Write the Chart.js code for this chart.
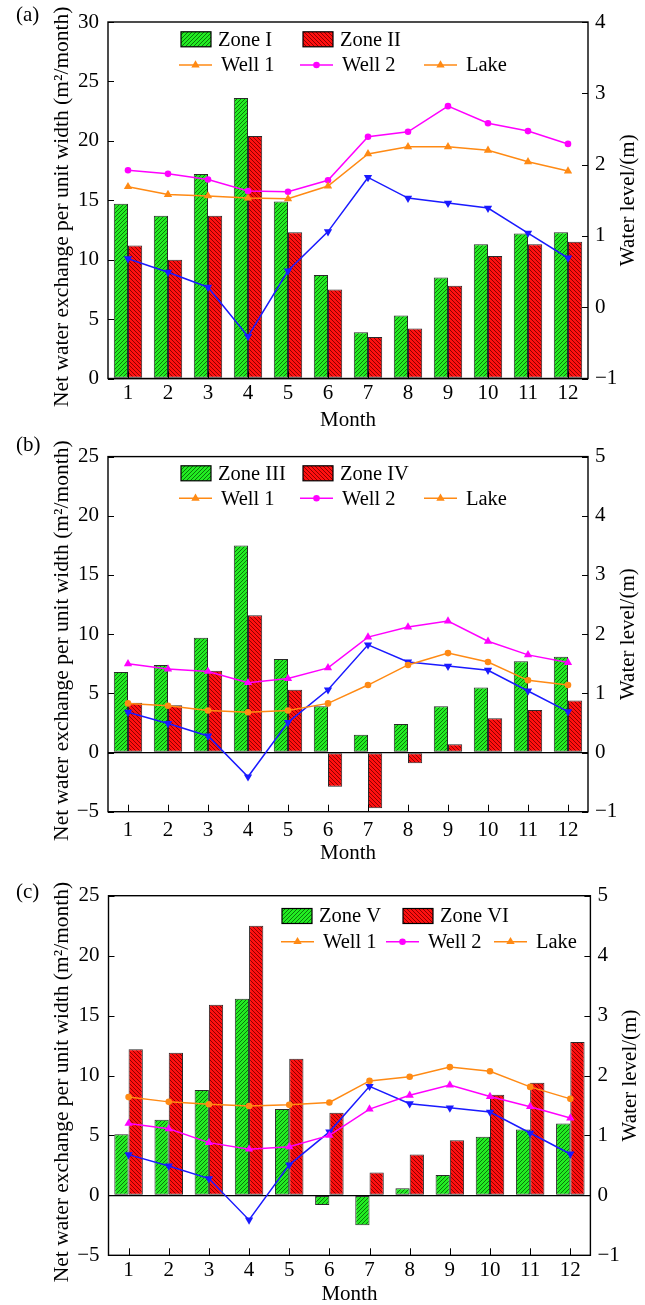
<!DOCTYPE html>
<html>
<head>
<meta charset="utf-8">
<script src="https://cdn.jsdelivr.net/npm/chart.js"></script>
<style>
  body { margin: 0; background: #fff; }
  .pane { position: absolute; left: 0; }
</style>
</head>
<body>
<canvas id="panelA" class="pane" style="top:0" width="645" height="435"></canvas>
<canvas id="panelB" class="pane" style="top:435px" width="645" height="435"></canvas>
<canvas id="panelC" class="pane" style="top:870px" width="645" height="435"></canvas>
<script>
// --- data ---
const months = ['1', '2', '3', '4', '5', '6', '7', '8', '9', '10', '11', '12'];

const zoneI   = [14.7, 13.7, 17.2, 23.6, 14.9, 8.7, 3.9, 5.3, 8.5, 11.3, 12.2, 12.3];
const zoneII  = [11.2, 10.0, 13.7, 20.4, 12.3, 7.5, 3.5, 4.2, 7.8, 10.3, 11.3, 11.5];
const zoneIII = [6.8, 7.4, 9.7, 17.5, 7.9, 3.9, 1.5, 2.4, 3.9, 5.5, 7.7, 8.1];
const zoneIV  = [4.2, 4.0, 6.9, 11.6, 5.3, -2.9, -4.7, -0.9, 0.7, 2.9, 3.6, 4.4];
const zoneV   = [5.1, 6.3, 8.8, 16.4, 7.2, -0.8, -2.5, 0.6, 1.7, 4.9, 5.5, 6.0];
const zoneVI  = [12.2, 11.9, 15.9, 22.5, 11.4, 6.9, 1.9, 3.4, 4.6, 8.4, 9.4, 12.8];

const well1A = [1.69, 1.58, 1.56, 1.53, 1.52, 1.70, 2.15, 2.25, 2.25, 2.20, 2.04, 1.91];
const well2A = [1.92, 1.87, 1.79, 1.63, 1.62, 1.78, 2.39, 2.46, 2.82, 2.58, 2.47, 2.29];
const well1B = [0.83, 0.79, 0.71, 0.68, 0.71, 0.83, 1.14, 1.48, 1.68, 1.53, 1.22, 1.14];
const well2B = [1.50, 1.41, 1.37, 1.18, 1.25, 1.43, 1.95, 2.12, 2.22, 1.88, 1.65, 1.52];
const well1C = [1.64, 1.56, 1.52, 1.49, 1.51, 1.55, 1.91, 1.98, 2.14, 2.07, 1.81, 1.61];
const well2C = [1.20, 1.11, 0.88, 0.77, 0.81, 1.00, 1.44, 1.67, 1.84, 1.65, 1.48, 1.29];
const lakeLevel = [0.68, 0.49, 0.28, -0.41, 0.51, 1.06, 1.82, 1.53, 1.46, 1.39, 1.04, 0.69];

const ORANGE = '#ff8a14';
const MAGENTA = '#ff00ff';
const BLUE = '#1a1aff';
const FONT = '"Liberation Serif", "Times New Roman", serif';

// crisp 1px diagonal hatching on a coloured ground
function hatch(ctx, rgb, ink, dir) {
    const s = 4;
    const c = document.createElement('canvas');
    c.width = c.height = s;
    const g = c.getContext('2d');
    const img = g.createImageData(s, s);
    for (let y = 0; y < s; y++) {
        for (let x = 0; x < s; x++) {
            const dark = dir > 0 ? (x + y) % s === s - 1 : (x - y + s) % s === 0;
            const col = dark ? ink : rgb;
            const i = (y * s + x) * 4;
            img.data[i] = col[0]; img.data[i + 1] = col[1]; img.data[i + 2] = col[2]; img.data[i + 3] = 255;
        }
    }
    g.putImageData(img, 0, 0);
    return ctx.createPattern(c, 'repeat');
}

function marker(ctx, style, x, y, color) {
    ctx.fillStyle = color;
    ctx.beginPath();
    if (style === 'circle') {
        ctx.arc(x, y, 3.3, 0, Math.PI * 2);
    } else {
        const r = 4.8;
        ctx.moveTo(x, y - r);
        ctx.lineTo(x - r * 0.87, y + r * 0.5);
        ctx.lineTo(x + r * 0.87, y + r * 0.5);
        ctx.closePath();
    }
    ctx.fill();
}

// frame, inward ticks, axis titles, panel letter and the key
const decor = {
    id: 'decor',
    afterDatasetsDraw(chart, args, o) {
        const { ctx, chartArea: a, scales } = chart;
        ctx.save();
        ctx.strokeStyle = '#000';
        ctx.lineWidth = 1;
        ctx.beginPath();
        scales.x.ticks.forEach((t, i) => {
            const px = Math.round(scales.x.getPixelForTick(i)) + 0.5;
            ctx.moveTo(px, a.bottom); ctx.lineTo(px, a.bottom - 7);
        });
        scales.y.ticks.forEach((t, i) => {
            const py = Math.round(scales.y.getPixelForTick(i)) + 0.5;
            ctx.moveTo(a.left, py); ctx.lineTo(a.left + 6, py);
        });
        scales.y1.ticks.forEach((t, i) => {
            const py = Math.round(scales.y1.getPixelForTick(i)) + 0.5;
            ctx.moveTo(a.right, py); ctx.lineTo(a.right - 6, py);
        });
        ctx.stroke();
        ctx.lineWidth = 1.4;
        ctx.strokeRect(a.left, a.top, a.right - a.left, a.bottom - a.top);

        ctx.fillStyle = '#000';
        ctx.font = '21px ' + FONT;
        ctx.textBaseline = 'middle';
        ctx.textAlign = 'left';
        ctx.fillText(o.letter, 16, o.letterY);

        const midY = (a.top + a.bottom) / 2;
        ctx.save();
        ctx.font = '21.5px ' + FONT;
        ctx.translate(62, midY + 6.5);
        ctx.rotate(-Math.PI / 2);
        ctx.textAlign = 'center';
        ctx.fillText('Net water exchange per unit width (m\u00b2/month)', 0, 0);
        ctx.restore();

        ctx.save();
        ctx.translate(a.right + 40, midY);
        ctx.rotate(-Math.PI / 2);
        ctx.textAlign = 'center';
        ctx.fillText('Water level/(m)', 0, 0);
        ctx.restore();

        // key
        ctx.font = '20.5px ' + FONT;
        o.key.forEach(k => {
            if (k.kind === 'bar') {
                ctx.fillStyle = k.fill;
                ctx.fillRect(k.x, k.y - 7.5, k.w, 15);
                ctx.lineWidth = 1.2;
                ctx.strokeStyle = '#000';
                ctx.strokeRect(k.x, k.y - 7.5, k.w, 15);
            } else {
                ctx.strokeStyle = k.color;
                ctx.lineWidth = 1.5;
                ctx.beginPath();
                ctx.moveTo(k.x, k.y); ctx.lineTo(k.x + k.w, k.y);
                ctx.stroke();
                marker(ctx, k.style, k.x + k.w / 2, k.y, k.color);
            }
            ctx.fillStyle = '#000';
            ctx.fillText(k.text, k.tx, k.y + 1);
        });
        ctx.restore();
    }
};

function buildPanel(id, p) {
    const ctx = document.getElementById(id).getContext('2d');
    const greenFill = hatch(ctx, [34, 236, 34], [10, 120, 10], 1);
    const redFill = hatch(ctx, [255, 16, 16], [140, 0, 0], -1);
    const r1 = p.row1, r2 = p.row2;
    const key = [
        { kind: 'bar', fill: greenFill, x: r1.xs[0], w: 30, y: r1.y, text: p.zones[0], tx: r1.xs[0] + 37 },
        { kind: 'bar', fill: redFill, x: r1.xs[1], w: 30, y: r1.y, text: p.zones[1], tx: r1.xs[1] + 37 },
        { kind: 'line', color: ORANGE, style: 'triangle', x: r2.xs[0], w: 33, y: r2.y, text: 'Well 1', tx: r2.xs[0] + 42 },
        { kind: 'line', color: MAGENTA, style: 'circle', x: r2.xs[1], w: 33, y: r2.y, text: 'Well 2', tx: r2.xs[1] + 42 },
        { kind: 'line', color: ORANGE, style: 'triangle', x: r2.xs[2], w: 33, y: r2.y, text: 'Lake', tx: r2.xs[2] + 42 }
    ];
    const tickFont = { family: FONT, size: 21 };
    const fmt = v => String(v).replace('-', '\u2212');
    return new Chart(ctx, {
        type: 'bar',
        data: {
            labels: months,
            datasets: [
                { label: p.zones[0], data: p.barsA, backgroundColor: greenFill, borderColor: '#2a2a2a',
                  borderWidth: 1, borderSkipped: false, yAxisID: 'y', order: 2,
                  categoryPercentage: 0.71, barPercentage: 1.0 },
                { label: p.zones[1], data: p.barsB, backgroundColor: redFill, borderColor: '#2a2a2a',
                  borderWidth: 1, borderSkipped: false, yAxisID: 'y', order: 2,
                  categoryPercentage: 0.71, barPercentage: 1.0 },
                { type: 'line', label: 'Well 1', data: p.well1, yAxisID: 'y1', order: 0,
                  borderColor: ORANGE, backgroundColor: ORANGE, borderWidth: 1.5,
                  pointStyle: p.style1, pointRadius: p.style1 === 'circle' ? 3.3 : 4.8, pointBorderWidth: 0 },
                { type: 'line', label: 'Well 2', data: p.well2, yAxisID: 'y1', order: 0,
                  borderColor: MAGENTA, backgroundColor: MAGENTA, borderWidth: 1.5,
                  pointStyle: p.style2, pointRadius: p.style2 === 'circle' ? 3.3 : 4.8, pointBorderWidth: 0 },
                { type: 'line', label: 'Lake', data: lakeLevel, yAxisID: 'y1', order: 0,
                  borderColor: BLUE, backgroundColor: BLUE, borderWidth: 1.5,
                  pointStyle: 'triangle', pointRotation: 180, pointRadius: 4.8, pointBorderWidth: 0 }
            ]
        },
        options: {
            responsive: false,
            animation: false,
            layout: { padding: { left: 55.5, top: p.top, right: p.right, bottom: p.bottom } },
            scales: {
                x: {
                    grid: { display: false, drawTicks: false, tickLength: 0 },
                    border: { display: false },
                    ticks: { color: '#000', font: tickFont, padding: p.xTickPad, maxRotation: 0 },
                    title: { display: true, text: 'Month', color: '#000',
                             font: { family: FONT, size: 21, lineHeight: 1 }, padding: { top: 0, bottom: p.xTitlePad } },
                    afterFit: s => { s.height = p.xH; }
                },
                y: {
                    position: 'left',
                    min: p.yMin, max: p.yMax,
                    grid: { drawTicks: false, tickLength: 0,
                            color: c => (c.tick && c.tick.value === 0 ? '#000' : 'rgba(0,0,0,0)'),
                            lineWidth: 1.3 },
                    border: { display: false },
                    ticks: { stepSize: 5, color: '#000', font: tickFont, padding: 9, callback: fmt },
                    afterFit: s => { s.width = p.yW; }
                },
                y1: {
                    position: 'right',
                    min: p.rMin, max: p.rMax,
                    grid: { display: false, drawTicks: false, tickLength: 0 },
                    border: { display: false },
                    ticks: { stepSize: 1, color: '#000', font: tickFont, padding: 7, callback: fmt },
                    afterFit: s => { s.width = 40; }
                }
            },
            plugins: {
                legend: { display: false },
                tooltip: { enabled: false },
                decor: { letter: p.letter, letterY: p.letterY, key: key }
            }
        },
        plugins: [decor]
    });
}

buildPanel('panelA', {
    letter: '(a)', letterY: 15, zones: ['Zone I', 'Zone II'],
    barsA: zoneI, barsB: zoneII, well1: well1A, well2: well2A,
    style1: 'triangle', style2: 'circle',
    yMin: 0, yMax: 30, rMin: -1, rMax: 4,
    top: 22, right: 17, bottom: 0.5, yW: 52.5, xH: 56, xTickPad: 2.4, xTitlePad: 4,
    row1: { y: 39.3, xs: [181, 303] }, row2: { y: 65, xs: [179, 300, 424] }
});

buildPanel('panelB', {
    letter: '(b)', letterY: 10, zones: ['Zone III', 'Zone IV'],
    barsA: zoneIII, barsB: zoneIV, well1: well1B, well2: well2B,
    style1: 'circle', style2: 'triangle',
    yMin: -5, yMax: 25, rMin: -1, rMax: 5,
    top: 17.7, right: 17, bottom: 0, yW: 52.5, xH: 58.3, xTickPad: 5.7, xTitlePad: 6.2,
    row1: { y: 38.3, xs: [181, 303] }, row2: { y: 63.3, xs: [179, 300, 424] }
});

buildPanel('panelC', {
    letter: '(c)', letterY: 22, zones: ['Zone V', 'Zone VI'],
    barsA: zoneV, barsB: zoneVI, well1: well1C, well2: well2C,
    style1: 'circle', style2: 'triangle',
    yMin: -5, yMax: 25, rMin: -1, rMax: 5,
    top: 25.7, right: 14.6, bottom: 0, yW: 53, xH: 49.7, xTickPad: 2.1, xTitlePad: 0,
    row1: { y: 46, xs: [282, 403] }, row2: { y: 71.7, xs: [281, 386, 494] }
});
</script>
</body>
</html>
